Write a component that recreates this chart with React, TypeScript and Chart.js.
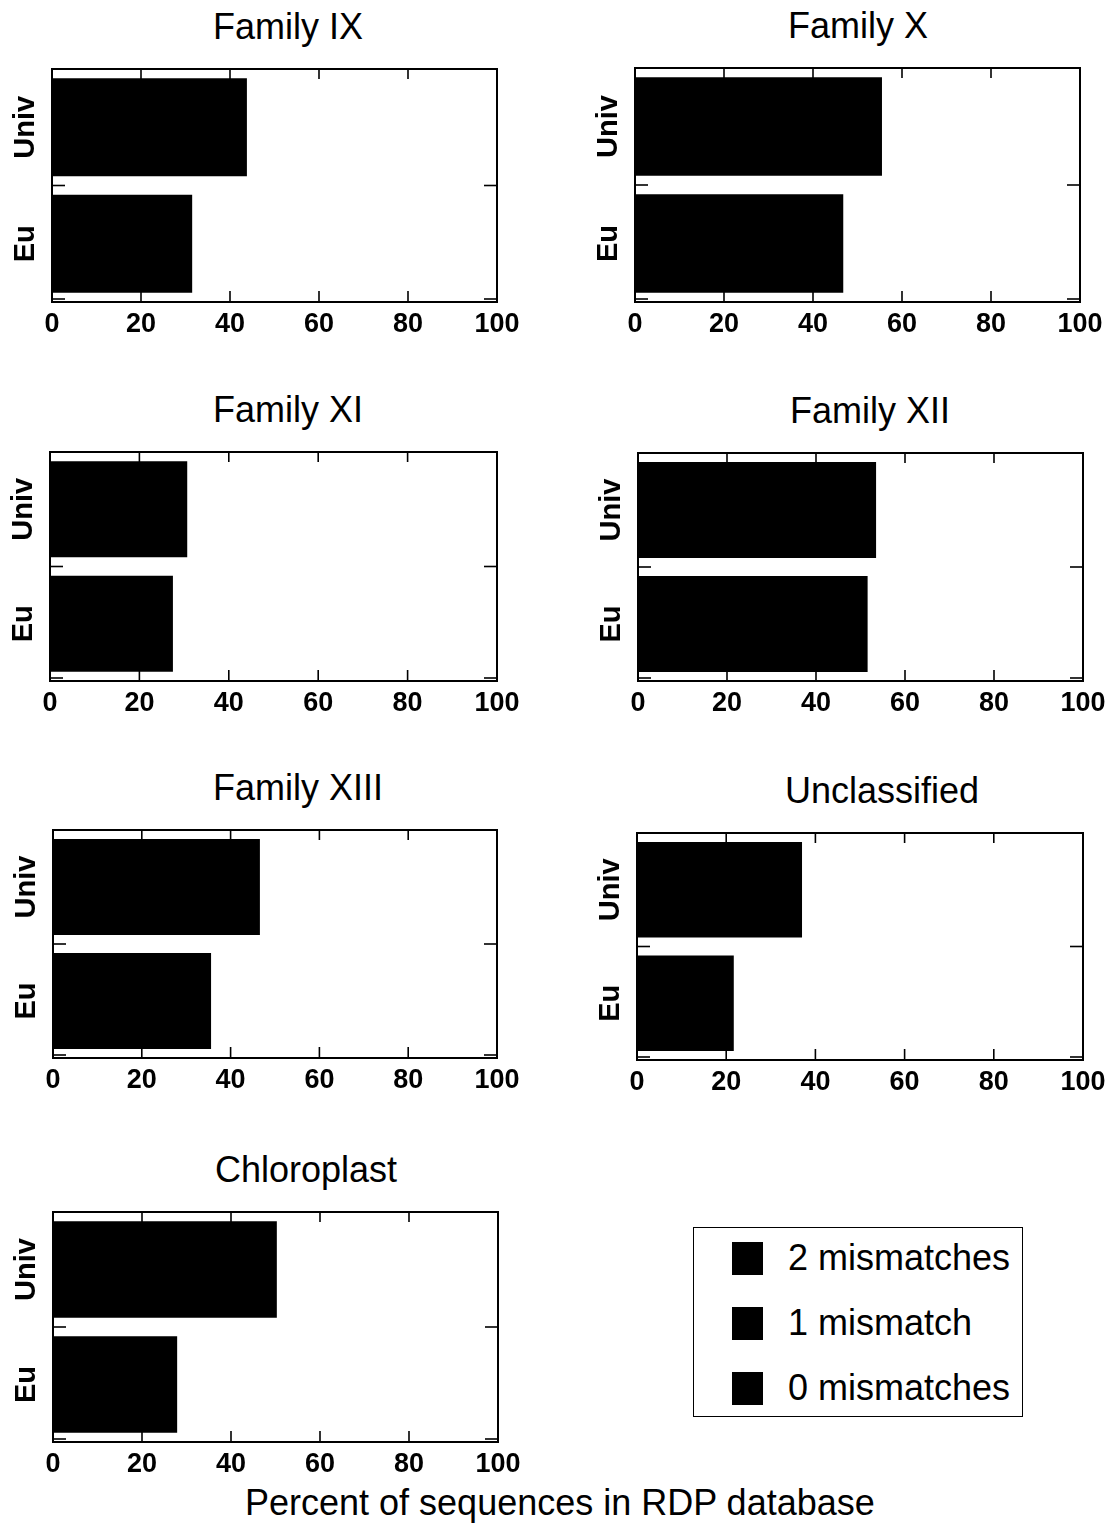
import React, { useEffect, useRef } from "react";
import { Chart, registerables } from "chart.js";

Chart.register(...registerables);

// Primer coverage per taxonomic group (percent of RDP sequences)
const panelTitles = [
  "Family IX",
  "Family X",
  "Family XI",
  "Family XII",
  "Family XIII",
  "Unclassified",
  "Chloroplast",
];
const primerLabels = ["Univ", "Eu"];
const univValues = [43.8, 55.5, 30.7, 53.5, 46.6, 37.0, 50.3];
const euValues = [31.5, 46.8, 27.5, 51.6, 35.6, 21.7, 27.9];
const xTickMax = 100;
const xTickStep = 20;
const legendLabels = ["2 mismatches", "1 mismatch", "0 mismatches"];
const xAxisTitle = "Percent of sequences in RDP database";

const FONT = "'Liberation Sans', Arial, Helvetica, sans-serif";

// plot-area rectangles (left, top, width, height) of each panel on the page
const panelBoxes = [
  { left: 52, top: 69, w: 445, h: 233, titleX: 213 },
  { left: 635, top: 68, w: 445, h: 234, titleX: 788 },
  { left: 50, top: 452, w: 447, h: 229, titleX: 213 },
  { left: 638, top: 453, w: 445, h: 228, titleX: 790 },
  { left: 53, top: 830, w: 444, h: 228, titleX: 213 },
  { left: 637, top: 833, w: 446, h: 227, titleX: 785 },
  { left: 53, top: 1212, w: 445, h: 230, titleX: 215 },
];

const Y_AXIS_W = 52;
const PAD_TOP = 4;
const PAD_RIGHT = 30;
const X_AXIS_H = 40;

// Box frame with inward ticks, plus rotated category labels
const axesFrame = {
  id: "axesFrame",
  afterDatasetsDraw(chart: any) {
    const { ctx, chartArea: a, scales } = chart;
    const xs = scales.x;
    const ys = scales.y;
    ctx.save();
    ctx.strokeStyle = "#000";
    ctx.lineWidth = 1.6;
    const line = (x1: number, y1: number, x2: number, y2: number) => {
      ctx.beginPath();
      ctx.moveTo(x1, y1);
      ctx.lineTo(x2, y2);
      ctx.stroke();
    };
    xs.ticks.forEach((t: any) => {
      const px = xs.getPixelForValue(t.value);
      line(px, a.top, px, a.top + 10);
      line(px, a.bottom, px, a.bottom - 11);
    });
    const n = chart.data.labels.length;
    for (let i = 0; i < n; i++) {
      const py = ys.getPixelForValue(i + 0.5) - (i === n - 1 ? 3 : 0);
      line(a.left, py, a.left + 13, py);
      line(a.right, py, a.right - 13, py);
    }
    ctx.lineWidth = 2;
    ctx.strokeRect(a.left, a.top, a.right - a.left, a.bottom - a.top);

    ctx.fillStyle = "#000";
    ctx.font = `bold 29px ${FONT}`;
    ctx.textAlign = "center";
    ctx.textBaseline = "middle";
    chart.data.labels.forEach((lab: string, i: number) => {
      ctx.save();
      ctx.translate(a.left - 26, ys.getPixelForValue(i));
      ctx.rotate(-Math.PI / 2);
      ctx.fillText(lab, 0, 0);
      ctx.restore();
    });
    ctx.restore();
  },
};

function Panel({ index }: { index: number }) {
  const ref = useRef<HTMLCanvasElement | null>(null);
  const box = panelBoxes[index];
  const cw = box.w + Y_AXIS_W + PAD_RIGHT;
  const ch = box.h + PAD_TOP + X_AXIS_H;

  useEffect(() => {
    if (!ref.current) return;
    const chart = new Chart(ref.current, {
      type: "bar",
      data: {
        labels: primerLabels,
        datasets: [
          {
            label: "total",
            data: [univValues[index], euValues[index]],
            backgroundColor: "#000",
            borderWidth: 0,
            barPercentage: 0.84,
            categoryPercentage: 1,
          },
        ],
      },
      options: {
        indexAxis: "y",
        animation: false,
        responsive: false,
        devicePixelRatio: 1,
        layout: { padding: { top: PAD_TOP, right: PAD_RIGHT, left: 0, bottom: 0 } },
        plugins: { legend: { display: false }, tooltip: { enabled: false }, title: { display: false } },
        scales: {
          x: {
            min: 0,
            max: xTickMax,
            grid: { display: false },
            border: { display: false },
            ticks: {
              stepSize: xTickStep,
              color: "#000",
              padding: -2,
              font: { family: FONT, weight: "bold", size: 27 },
            },
            afterFit: (s: any) => {
              s.height = X_AXIS_H;
            },
          },
          y: {
            offset: true,
            grid: { display: false },
            border: { display: false },
            ticks: { display: false },
            afterFit: (s: any) => {
              s.width = Y_AXIS_W;
            },
          },
        },
      },
      plugins: [axesFrame],
    });
    return () => chart.destroy();
  }, [index]);

  return (
    <>
      <div
        style={{
          position: "absolute",
          left: box.titleX,
          top: box.top - 42 - 20,
          font: `36px ${FONT}`,
          lineHeight: "40px",
          whiteSpace: "nowrap",
          color: "#000",
        }}
      >
        {panelTitles[index]}
      </div>
      <canvas
        ref={ref}
        width={cw}
        height={ch}
        style={{
          position: "absolute",
          left: box.left - Y_AXIS_W,
          top: box.top - PAD_TOP,
          width: cw,
          height: ch,
        }}
      />
    </>
  );
}

function Legend() {
  return (
    <div
      style={{
        position: "absolute",
        left: 693,
        top: 1227,
        width: 330,
        height: 190,
        boxSizing: "border-box",
        border: "1.5px solid #000",
        background: "#fff",
      }}
    >
      {legendLabels.map((lab, i) => (
        <div
          key={lab}
          style={{
            position: "absolute",
            left: 38,
            top: 30 + i * 65 - 20,
            height: 40,
            display: "flex",
            alignItems: "center",
            whiteSpace: "nowrap",
          }}
        >
          <span style={{ display: "inline-block", width: 31, height: 33, background: "#000" }} />
          <span style={{ marginLeft: 25, font: `36px ${FONT}`, lineHeight: "40px", color: "#000" }}>{lab}</span>
        </div>
      ))}
    </div>
  );
}

export default function App() {
  return (
    <div
      style={{
        position: "absolute",
        left: 0,
        top: 0,
        width: 1114,
        height: 1529,
        background: "#fff",
        overflow: "hidden",
      }}
    >
      {panelTitles.map((_, i) => (
        <Panel key={i} index={i} />
      ))}
      <Legend />
      <div
        style={{
          position: "absolute",
          left: 245,
          top: 1503 - 20,
          font: `36px ${FONT}`,
          lineHeight: "40px",
          whiteSpace: "nowrap",
          color: "#000",
        }}
      >
        {xAxisTitle}
      </div>
    </div>
  );
}
